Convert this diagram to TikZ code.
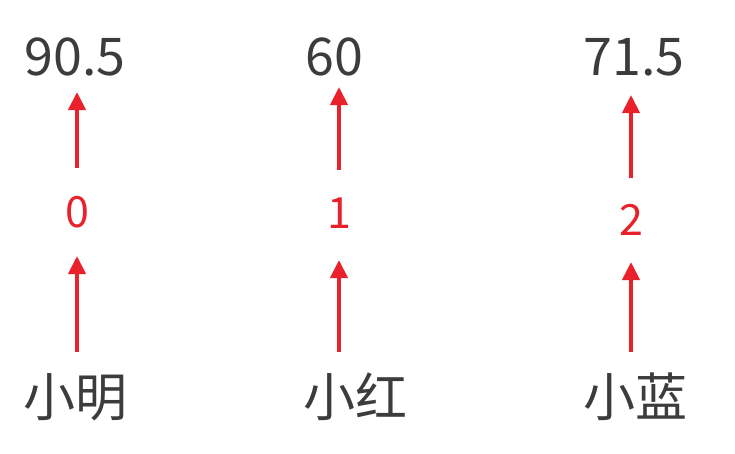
\documentclass[tikz,border=0pt]{standalone}
\usepackage{fontspec}
\setmainfont{Noto Sans CJK SC}
\usepackage{tikz}
\usetikzlibrary{arrows.meta,positioning,calc}
\definecolor{arrred}{HTML}{E8212B}
\definecolor{txtgray}{HTML}{3C3C3C}

\begin{document}
\begin{tikzpicture}[x=1pt,y=-1pt]
\tikzset{score/.style={text=txtgray,inner sep=0pt,font=\fontsize{52}{52}\selectfont}}
\tikzset{who/.style={text=txtgray,inner sep=0pt,font=\fontsize{52}{52}\selectfont}}
\tikzset{idx/.style={text=arrred,inner sep=0pt,font=\fontsize{43}{43}\selectfont}}
\tikzset{arr/.style={draw=arrred,line width=4pt,-{Triangle[length=18pt,width=17pt]}}}
\useasboundingbox (0,0) rectangle (735,453);
% names
\node[who] (ming) at (75,397) {小明};
\node[who] (hong) at (355,397) {小红};
\node[who] (lan) at (635,397) {小蓝};
% indices
\node[idx] (i0) at (77,212) {0};
\node[idx] (i1) at (339,213) {1};
\node[idx] (i2) at (631,220) {2};
% scores
\node[score] (s0) at (75,57) {90.5};
\node[score] (s1) at (334,57) {60};
\node[score] (s2) at (634,57) {71.5};
% arrows
\draw[arr,shorten <=45pt,shorten >=44pt] (ming.center -| i0) -- (i0.center);
\draw[arr,shorten <=44pt,shorten >=35pt] (i0.center) -- (s0.center -| i0);
\draw[arr,shorten <=45pt,shorten >=47pt] (hong.center -| i1) -- (i1.center);
\draw[arr,shorten <=43pt,shorten >=30pt] (i1.center) -- (s1.center -| i1);
\draw[arr,shorten <=45pt,shorten >=42pt] (lan.center -| i2) -- (i2.center);
\draw[arr,shorten <=42pt,shorten >=38pt] (i2.center) -- (s2.center -| i2);
\end{tikzpicture}
\end{document}
